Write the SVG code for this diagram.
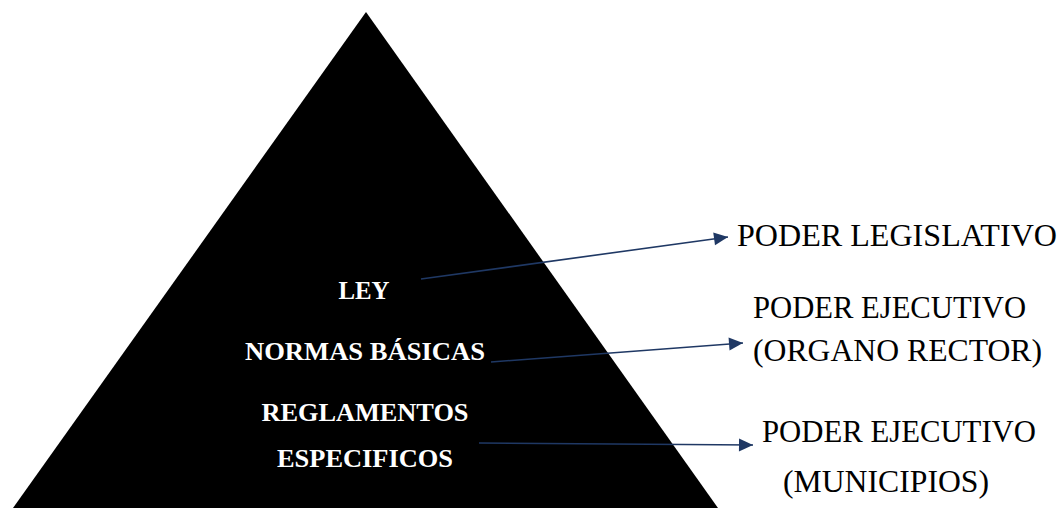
<svg xmlns="http://www.w3.org/2000/svg" width="1062" height="508" viewBox="0 0 1062 508">
<style>
.lvl{font-family:"Liberation Serif","Times New Roman",serif;font-weight:bold;font-size:26px;fill:#ffffff;text-anchor:middle}
.lbl{font-family:"Liberation Serif","Times New Roman",serif;font-size:32px;fill:#000000}
.conn{stroke:#1f3864;stroke-width:1.6;fill:none;marker-end:url(#ah)}
</style>
<defs>
<marker id="ah" viewBox="0 0 14 13" refX="14" refY="6.5" markerWidth="14" markerHeight="13" markerUnits="userSpaceOnUse" orient="auto" overflow="visible">
<path d="M0,0 L14,6.5 L0,13 z" fill="#1f3864"/>
</marker>
</defs>
<rect width="1062" height="508" fill="#ffffff"/>
<g id="pyramid">
<polygon points="366,12 718,508 13,508" fill="#000000"/>
<text class="lvl" x="364" y="299" textLength="51" lengthAdjust="spacingAndGlyphs">LEY</text>
<text class="lvl" x="365" y="360" textLength="240" lengthAdjust="spacingAndGlyphs">NORMAS BÁSICAS</text>
<text class="lvl" x="365" y="421" textLength="207" lengthAdjust="spacingAndGlyphs">REGLAMENTOS</text>
<text class="lvl" x="365" y="467" textLength="176" lengthAdjust="spacingAndGlyphs">ESPECIFICOS</text>
</g>
<g id="legislativo">
<text class="lbl" x="737" y="246" textLength="320" lengthAdjust="spacingAndGlyphs">PODER LEGISLATIVO</text>
</g>
<g id="organo-rector">
<text class="lbl" x="753" y="318" textLength="273" lengthAdjust="spacingAndGlyphs">PODER EJECUTIVO</text>
<text class="lbl" x="753" y="361" textLength="289" lengthAdjust="spacingAndGlyphs">(ORGANO RECTOR)</text>
</g>
<g id="municipios">
<text class="lbl" x="762" y="442" textLength="274" lengthAdjust="spacingAndGlyphs">PODER EJECUTIVO</text>
<text class="lbl" x="783" y="492" textLength="206" lengthAdjust="spacingAndGlyphs">(MUNICIPIOS)</text>
</g>
<g id="connectors">
<line class="conn" x1="421" y1="279" x2="728" y2="237"/>
<line class="conn" x1="491" y1="362" x2="743" y2="343"/>
<line class="conn" x1="479" y1="443" x2="753" y2="445"/>
</g>
</svg>
